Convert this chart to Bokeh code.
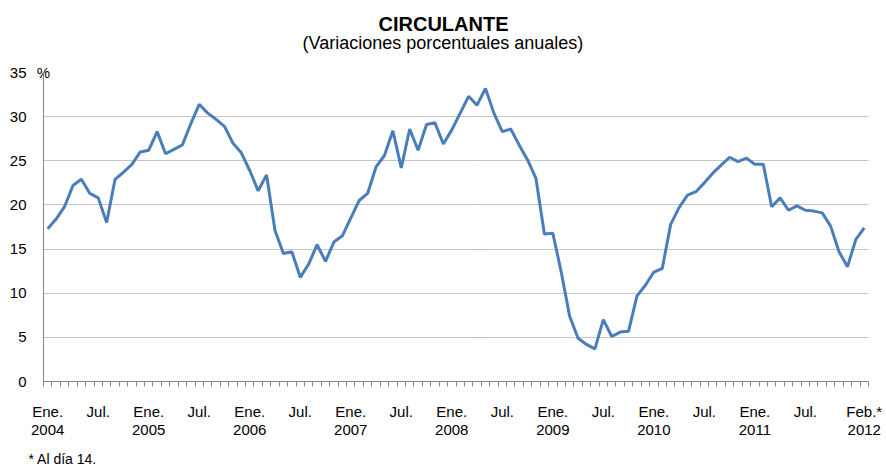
from bokeh.plotting import figure
from bokeh.models import Range1d, FixedTicker, Title, LinearAxis
from bokeh.embed import file_html
from bokeh.resources import INLINE

# Monthly annual % change of currency in circulation, Jan 2004 - Feb 2012
v2004 = [17.3, 18.4, 19.8, 22.2, 22.9, 21.3, 20.8, 18.0, 22.9, 23.7, 24.6, 26.0]
v2005 = [26.2, 28.3, 25.8, 26.3, 26.8, 29.2, 31.4, 30.4, 29.7, 28.9, 27.0, 25.9]
v2006 = [23.9, 21.6, 23.4, 17.1, 14.5, 14.7, 11.8, 13.3, 15.5, 13.6, 15.8, 16.5]
v2007 = [18.5, 20.5, 21.3, 24.3, 25.6, 28.4, 24.2, 28.6, 26.2, 29.1, 29.3, 26.9]
v2008 = [28.5, 30.4, 32.3, 31.3, 33.2, 30.4, 28.3, 28.6, 26.8, 25.1, 23.0, 16.7]
v2009 = [16.8, 12.4, 7.4, 4.9, 4.2, 3.7, 7.0, 5.1, 5.6, 5.7, 9.7, 10.9]
v2010 = [12.4, 12.8, 17.8, 19.7, 21.1, 21.5, 22.5, 23.6, 24.5, 25.4, 24.9, 25.3]
v2011 = [24.6, 24.6, 19.8, 20.8, 19.4, 19.9, 19.4, 19.3, 19.1, 17.6, 14.7, 13.0]
v2012 = [16.1, 17.4]

values = v2004 + v2005 + v2006 + v2007 + v2008 + v2009 + v2010 + v2011 + v2012
months = list(range(len(values)))

tick_pos = [0, 6, 12, 18, 24, 30, 36, 42, 48, 54, 60, 66, 72, 78, 84, 90, 97]
tick_text = ["Ene.\n2004", "Jul.", "Ene.\n2005", "Jul.", "Ene.\n2006", "Jul.",
             "Ene.\n2007", "Jul.", "Ene.\n2008", "Jul.", "Ene.\n2009", "Jul.",
             "Ene.\n2010", "Jul.", "Ene.\n2011", "Jul.", "Feb.*\n2012"]
y_ticks = [0, 5, 10, 15, 20, 25, 30, 35]

title_text = "CIRCULANTE"
subtitle_text = "(Variaciones porcentuales anuales)"
unit_text = "%"
note_text = "* Al día 14."

FONT = "Liberation Sans"
GREY = "#868686"

p = figure(width=886, height=473, output_backend="svg", toolbar_location=None,
           x_range=Range1d(-0.5, len(values) - 0.5), y_range=Range1d(0, 35),
           min_border_left=43, min_border_right=18, min_border_top=72,
           min_border_bottom=89, title=None)
p.outline_line_color = None
p.background_fill_color = "white"
p.border_fill_color = "white"

p.line(months, values, line_color="#4a7ebb", line_width=3)

# x axis
xa = p.xaxis[0]
xa.ticker = FixedTicker(ticks=tick_pos, minor_ticks=[m - 0.5 for m in range(len(values) + 1)])
xa.major_label_overrides = {k: t for k, t in zip(tick_pos, tick_text)}
xa.axis_line_color = GREY
xa.major_tick_line_color = None
xa.major_tick_out = 5
xa.major_tick_in = 0
xa.minor_tick_line_color = GREY
xa.minor_tick_out = 5
xa.minor_tick_in = 0
xa.major_label_standoff = 16
xa.major_label_text_font = FONT
xa.major_label_text_font_size = "15px"
xa.major_label_text_color = "black"
xa.major_label_text_line_height = 1.1

# y axis
ya = p.yaxis[0]
ya.ticker = FixedTicker(ticks=y_ticks)
ya.axis_line_color = GREY
ya.major_tick_line_color = None
ya.minor_tick_line_color = None
ya.major_tick_out = 0
ya.major_tick_in = 0
ya.major_label_standoff = 17
ya.major_label_text_font = FONT
ya.major_label_text_font_size = "15px"
ya.major_label_text_color = "black"

p.xgrid.visible = False
p.ygrid.ticker = FixedTicker(ticks=y_ticks[1:])
p.ygrid.grid_line_color = "#8c8c8c"
p.ygrid.grid_line_dash = "1 1"
p.ygrid.grid_line_width = 1

# unit marker "%" at the top of the value axis
pct_axis = LinearAxis(ticker=FixedTicker(ticks=[-0.5], minor_ticks=[]),
                      major_label_overrides={-0.5: unit_text})
pct_axis.axis_line_color = None
pct_axis.major_tick_line_color = None
pct_axis.minor_tick_line_color = None
pct_axis.major_tick_out = 0
pct_axis.major_tick_in = 0
pct_axis.minor_tick_out = 0
pct_axis.major_label_standoff = -8
pct_axis.major_label_text_font = FONT
pct_axis.major_label_text_font_size = "15px"
pct_axis.major_label_text_color = "black"
p.add_layout(pct_axis, "above")

p.add_layout(Title(text=subtitle_text, align="left", offset=259, vertical_align="top",
                   standoff=12, text_font=FONT, text_font_size="18px",
                   text_font_style="normal", text_color="black"), "above")
p.add_layout(Title(text=title_text, align="left", offset=335, vertical_align="bottom",
                   standoff=-16, text_font=FONT, text_font_size="20px",
                   text_font_style="bold", text_color="black"), "above")
p.add_layout(Title(text=note_text, align="left", offset=-15, vertical_align="bottom",
                   standoff=14, text_font=FONT, text_font_size="14px",
                   text_font_style="normal", text_color="black"), "below")

open("out.html", "w").write(file_html(p, INLINE))
